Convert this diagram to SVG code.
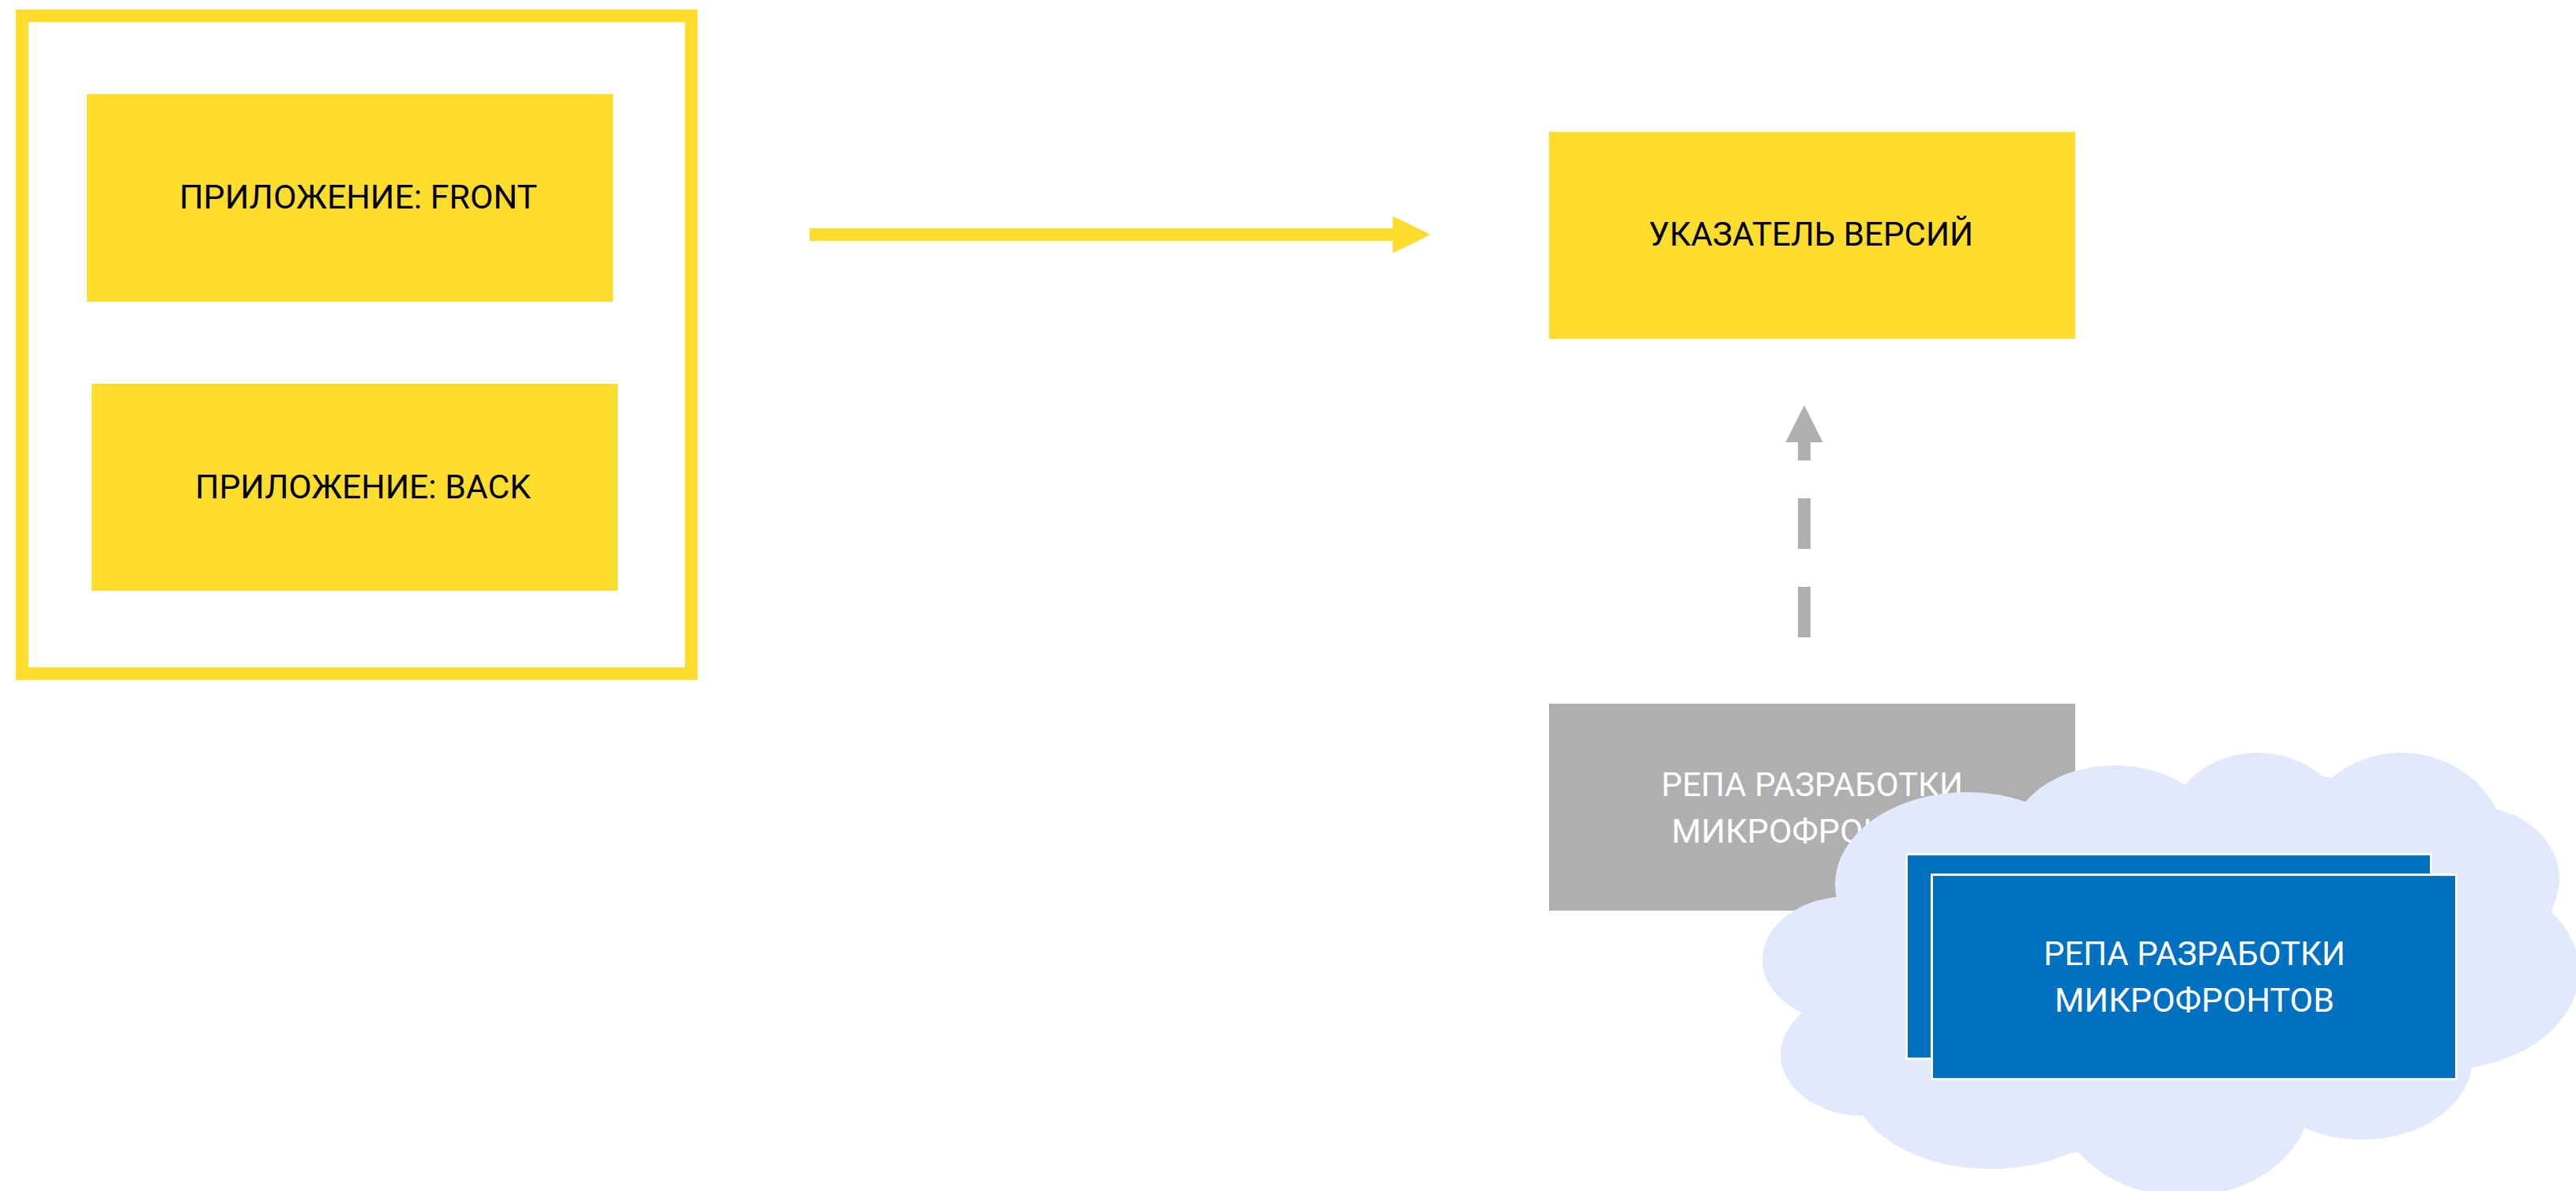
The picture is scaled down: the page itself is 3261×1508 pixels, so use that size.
<svg xmlns="http://www.w3.org/2000/svg" width="3261" height="1508" viewBox="0 0 3261 1508">
<style>
.yel{fill:#FFDD2D}
.lbl{font-family:Roboto,"Liberation Sans",sans-serif;font-size:43px}
.dark{fill:#000}
.light{fill:#fff}
.blue{fill:#0070C0;stroke:#fff;stroke-width:3}
.cloud{fill:#E3E9FD}
</style>
<defs>
<marker id="ay" markerUnits="userSpaceOnUse" markerWidth="48" markerHeight="48" refX="0" refY="23.5" orient="auto" overflow="visible">
<path d="M0,0 L48,23.5 L0,47 Z" fill="#FFDD2D"/>
</marker>
<marker id="ag" markerUnits="userSpaceOnUse" markerWidth="48" markerHeight="48" refX="0" refY="23.5" orient="auto" overflow="visible">
<path d="M0,0 L47,23.5 L0,47 Z" fill="#AFAFAF"/>
</marker>
</defs>
<rect x="0" y="0" width="3261" height="1508" fill="#fff"/>
<g id="app-frame">
<rect x="28" y="20" width="847" height="833" fill="none" stroke="#FFDD2D" stroke-width="16"/>
</g>
<g id="app-front">
<rect class="yel" x="110" y="119" width="666" height="263"/>
<text class="lbl dark" x="227" y="264" textLength="453" lengthAdjust="spacingAndGlyphs">ПРИЛОЖЕНИЕ: FRONT</text>
</g>
<g id="app-back">
<rect class="yel" x="116" y="486" width="666" height="262"/>
<text class="lbl dark" x="247" y="631" textLength="425" lengthAdjust="spacingAndGlyphs">ПРИЛОЖЕНИЕ: BACK</text>
</g>
<g id="version-pointer">
<rect class="yel" x="1961" y="167" width="666" height="262"/>
<text class="lbl dark" x="2087" y="311" textLength="411" lengthAdjust="spacingAndGlyphs">УКАЗАТЕЛЬ ВЕРСИЙ</text>
</g>
<g id="connectors">
<line x1="1025" y1="297" x2="1763" y2="297" stroke="#FFDD2D" stroke-width="16" marker-end="url(#ay)"/>
<line x1="2284" y1="807" x2="2284" y2="560" stroke="#AFAFAF" stroke-width="16" stroke-dasharray="64 48" marker-end="url(#ag)"/>
</g>
<g id="dev-repo-gray">
<rect x="1961" y="891" width="666" height="262" fill="#AFAFAF"/>
<text class="lbl light" x="2103" y="1008" textLength="382" lengthAdjust="spacingAndGlyphs">РЕПА РАЗРАБОТКИ</text>
<text class="lbl light" x="2116" y="1067" textLength="354" lengthAdjust="spacingAndGlyphs">МИКРОФРОНТОВ</text>
</g>
<g id="cloud">
<polygon class="cloud" points="2325,1138 2566,1018 2768,995 2942,983 3146,1023 3231,1152 3125,1343 2913,1429 2624,1460 2357,1412 2281,1282"/>
<ellipse class="cloud" cx="2490" cy="1120" rx="167" ry="117"/>
<ellipse class="cloud" cx="2677" cy="1069" rx="134" ry="100"/>
<ellipse class="cloud" cx="2858" cy="1053" rx="114" ry="100"/>
<ellipse class="cloud" cx="3040" cy="1083" rx="135" ry="130"/>
<ellipse class="cloud" cx="3130" cy="1113" rx="110" ry="92"/>
<ellipse class="cloud" cx="3090" cy="1230" rx="175" ry="125"/>
<ellipse class="cloud" cx="2990" cy="1340" rx="140" ry="103"/>
<ellipse class="cloud" cx="2765" cy="1390" rx="160" ry="125"/>
<ellipse class="cloud" cx="2520" cy="1370" rx="175" ry="110"/>
<ellipse class="cloud" cx="2360" cy="1335" rx="106" ry="78"/>
<ellipse class="cloud" cx="2340" cy="1215" rx="109" ry="80"/>
</g>
<g id="dev-repo-blue-back">
<rect class="blue" x="2413.5" y="1081.5" width="664" height="259"/>
</g>
<g id="dev-repo-blue-front">
<rect class="blue" x="2445.5" y="1107.5" width="664" height="259"/>
<text class="lbl light" x="2587" y="1222" textLength="382" lengthAdjust="spacingAndGlyphs">РЕПА РАЗРАБОТКИ</text>
<text class="lbl light" x="2601" y="1281" textLength="354" lengthAdjust="spacingAndGlyphs">МИКРОФРОНТОВ</text>
</g>
</svg>
